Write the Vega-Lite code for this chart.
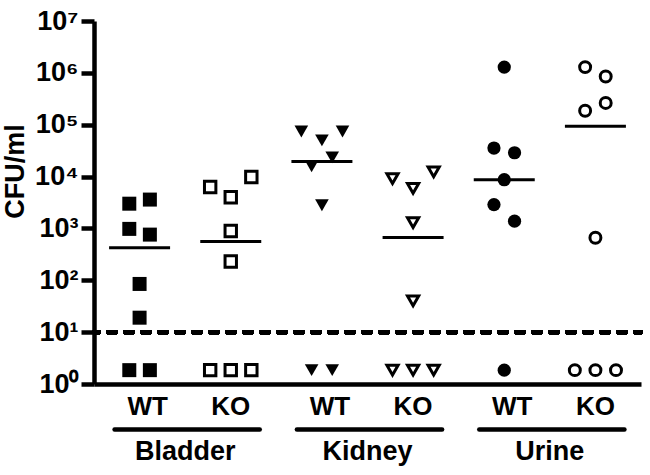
{
  "$schema": "https://vega.github.io/schema/vega-lite/v6.json",
  "background": "white",
  "padding": {"left": 1, "top": 7, "right": 5, "bottom": 5},
  "config": {"view": {"stroke": null}, "font": "Liberation Sans"},
  "datasets": {
    "pts": [
      {"tissue": "Bladder", "genotype": "WT", "group": "Bladder WT", "slot": -1, "cfu": 3000},
      {"tissue": "Bladder", "genotype": "WT", "group": "Bladder WT", "slot": 1, "cfu": 3600},
      {"tissue": "Bladder", "genotype": "WT", "group": "Bladder WT", "slot": -1, "cfu": 980},
      {"tissue": "Bladder", "genotype": "WT", "group": "Bladder WT", "slot": 1, "cfu": 760},
      {"tissue": "Bladder", "genotype": "WT", "group": "Bladder WT", "slot": 0, "cfu": 85},
      {"tissue": "Bladder", "genotype": "WT", "group": "Bladder WT", "slot": 0, "cfu": 19},
      {"tissue": "Bladder", "genotype": "WT", "group": "Bladder WT", "slot": -1, "cfu": 1.85},
      {"tissue": "Bladder", "genotype": "WT", "group": "Bladder WT", "slot": 1, "cfu": 1.85},
      {"tissue": "Bladder", "genotype": "KO", "group": "Bladder KO", "slot": -2, "cfu": 6300},
      {"tissue": "Bladder", "genotype": "KO", "group": "Bladder KO", "slot": 0, "cfu": 4000},
      {"tissue": "Bladder", "genotype": "KO", "group": "Bladder KO", "slot": 2, "cfu": 9800},
      {"tissue": "Bladder", "genotype": "KO", "group": "Bladder KO", "slot": 0, "cfu": 890},
      {"tissue": "Bladder", "genotype": "KO", "group": "Bladder KO", "slot": 0, "cfu": 230},
      {"tissue": "Bladder", "genotype": "KO", "group": "Bladder KO", "slot": -2, "cfu": 1.85},
      {"tissue": "Bladder", "genotype": "KO", "group": "Bladder KO", "slot": 0, "cfu": 1.85},
      {"tissue": "Bladder", "genotype": "KO", "group": "Bladder KO", "slot": 2, "cfu": 1.85},
      {"tissue": "Kidney", "genotype": "WT", "group": "Kidney WT", "slot": -2, "cfu": 74000},
      {"tissue": "Kidney", "genotype": "WT", "group": "Kidney WT", "slot": 0, "cfu": 50000},
      {"tissue": "Kidney", "genotype": "WT", "group": "Kidney WT", "slot": 2, "cfu": 74000},
      {"tissue": "Kidney", "genotype": "WT", "group": "Kidney WT", "slot": 1, "cfu": 23400},
      {"tissue": "Kidney", "genotype": "WT", "group": "Kidney WT", "slot": -1, "cfu": 15800},
      {"tissue": "Kidney", "genotype": "WT", "group": "Kidney WT", "slot": 0, "cfu": 2800},
      {"tissue": "Kidney", "genotype": "WT", "group": "Kidney WT", "slot": -1, "cfu": 1.85},
      {"tissue": "Kidney", "genotype": "WT", "group": "Kidney WT", "slot": 1, "cfu": 1.85},
      {"tissue": "Kidney", "genotype": "KO", "group": "Kidney KO", "slot": -2, "cfu": 9100},
      {"tissue": "Kidney", "genotype": "KO", "group": "Kidney KO", "slot": 0, "cfu": 5900},
      {"tissue": "Kidney", "genotype": "KO", "group": "Kidney KO", "slot": 2, "cfu": 12300},
      {"tissue": "Kidney", "genotype": "KO", "group": "Kidney KO", "slot": 0, "cfu": 1290},
      {"tissue": "Kidney", "genotype": "KO", "group": "Kidney KO", "slot": 0, "cfu": 40},
      {"tissue": "Kidney", "genotype": "KO", "group": "Kidney KO", "slot": -2, "cfu": 1.85},
      {"tissue": "Kidney", "genotype": "KO", "group": "Kidney KO", "slot": 0, "cfu": 1.85},
      {"tissue": "Kidney", "genotype": "KO", "group": "Kidney KO", "slot": 2, "cfu": 1.85},
      {"tissue": "Urine", "genotype": "WT", "group": "Urine WT", "slot": 0, "cfu": 1290000},
      {"tissue": "Urine", "genotype": "WT", "group": "Urine WT", "slot": -1, "cfu": 35500},
      {"tissue": "Urine", "genotype": "WT", "group": "Urine WT", "slot": 1, "cfu": 28800},
      {"tissue": "Urine", "genotype": "WT", "group": "Urine WT", "slot": 0, "cfu": 8700},
      {"tissue": "Urine", "genotype": "WT", "group": "Urine WT", "slot": -1, "cfu": 2880},
      {"tissue": "Urine", "genotype": "WT", "group": "Urine WT", "slot": 1, "cfu": 1380},
      {"tissue": "Urine", "genotype": "WT", "group": "Urine WT", "slot": 0, "cfu": 1.85},
      {"tissue": "Urine", "genotype": "KO", "group": "Urine KO", "slot": -1, "cfu": 1290000},
      {"tissue": "Urine", "genotype": "KO", "group": "Urine KO", "slot": 1, "cfu": 850000},
      {"tissue": "Urine", "genotype": "KO", "group": "Urine KO", "slot": -1, "cfu": 186000},
      {"tissue": "Urine", "genotype": "KO", "group": "Urine KO", "slot": 1, "cfu": 263000},
      {"tissue": "Urine", "genotype": "KO", "group": "Urine KO", "slot": 0, "cfu": 660},
      {"tissue": "Urine", "genotype": "KO", "group": "Urine KO", "slot": -2, "cfu": 1.85},
      {"tissue": "Urine", "genotype": "KO", "group": "Urine KO", "slot": 0, "cfu": 1.85},
      {"tissue": "Urine", "genotype": "KO", "group": "Urine KO", "slot": 2, "cfu": 1.85}
    ],
    "groups": [
      {"group": "Bladder WT", "tissue": "Bladder", "idx": 1},
      {"group": "Bladder KO", "tissue": "Bladder", "idx": 2},
      {"group": "Kidney WT", "tissue": "Kidney", "idx": 3},
      {"group": "Kidney KO", "tissue": "Kidney", "idx": 4},
      {"group": "Urine WT", "tissue": "Urine", "idx": 5},
      {"group": "Urine KO", "tissue": "Urine", "idx": 6}
    ]
  },
  "spacing": 45.5,
  "bounds": "flush",
  "resolve": {"scale": {"x": "independent", "y": "independent"}},
  "vconcat": [
    {
      "width": 547,
      "height": 363,
      "data": {"name": "pts"},
      "resolve": {"scale": {"size": "independent"}},
      "layer": [
        {
          "transform": [{"filter": "datum.genotype === 'WT'"}],
          "mark": {"type": "point", "filled": true, "color": "black", "opacity": 1},
          "encoding": {
            "x": {
              "field": "group", "type": "nominal",
              "scale": {"domain": ["Bladder WT", "Bladder KO", "Kidney WT", "Kidney KO", "Urine WT", "Urine KO"], "paddingInner": 0, "paddingOuter": 0},
              "axis": {
                "title": null,
                "labelExpr": "split(datum.label, ' ')[1]",
                "labelAngle": 0,
                "ticks": false,
                "domainColor": "black",
                "domainWidth": 4.5,
                "labelFontSize": 26,
                "labelFontWeight": "bold",
                "labelColor": "black",
                "labelPadding": 9,
                "labelOffset": {"condition": {"test": "indexof(datum.value, 'WT') >= 0", "value": 8}, "value": 0}
              }
            },
            "xOffset": {"field": "slot", "type": "quantitative", "scale": {"domain": [-4.43, 4.43], "nice": false, "zero": false}},
            "y": {
              "field": "cfu", "type": "quantitative",
              "scale": {"type": "log", "domain": [1, 10000000], "nice": false},
              "axis": {
                "title": "CFU/ml",
                "titleY": 150,
                "values": [1, 10, 100, 1000, 10000, 100000, 1000000, 10000000],
                "labelExpr": "'10' + ['⁰','¹','²','³','⁴','⁵','⁶','⁷'][round(log(datum.value) / LN10)]",
                "grid": false,
                "domainColor": "black",
                "domainWidth": 4.5,
                "tickColor": "black",
                "tickWidth": 4.5,
                "tickSize": 13,
                "labelFontSize": 27,
                "labelFontWeight": "bold",
                "labelColor": "black",
                "labelPadding": 3,
                "labelFlush": false,
                "labelOverlap": false,
                "labelBound": false,
                "titleFontSize": 27,
                "titleFontWeight": "bold",
                "titleColor": "black",
                "titlePadding": 5
              }
            },
            "shape": {"field": "tissue", "type": "nominal", "scale": {"domain": ["Bladder", "Kidney", "Urine"], "range": ["square", "triangle-down", "circle"]}, "legend": null},
            "size": {"field": "tissue", "type": "ordinal", "scale": {"domain": ["Bladder", "Kidney", "Urine"], "range": [196, 175, 165]}, "legend": null}
          }
        },
        {
          "transform": [{"filter": "datum.genotype === 'KO'"}],
          "mark": {"type": "point", "filled": false, "stroke": "black", "strokeWidth": 3, "opacity": 1},
          "encoding": {
            "x": {"field": "group", "type": "nominal"},
            "xOffset": {"field": "slot", "type": "quantitative"},
            "y": {"field": "cfu", "type": "quantitative"},
            "shape": {"field": "tissue", "type": "nominal", "legend": null},
            "size": {"field": "tissue", "type": "ordinal", "scale": {"domain": ["Bladder", "Kidney", "Urine"], "range": [130, 120, 120]}, "legend": null}
          }
        },
        {
          "mark": {"type": "tick", "color": "black", "thickness": 3, "opacity": 1},
          "encoding": {
            "x": {"field": "group", "type": "nominal"},
            "y": {"aggregate": "median", "field": "cfu", "type": "quantitative"},
            "size": {"value": 61}
          }
        },
        {
          "mark": {"type": "rule", "color": "black", "strokeWidth": 4, "strokeCap": "round", "strokeDash": [8, 9], "strokeDashOffset": 2},
          "encoding": {"y": {"datum": 10}}
        }
      ]
    },
    {
      "width": 547,
      "height": 30.5,
      "data": {"name": "groups"},
      "layer": [
        {
          "mark": {"type": "rule", "color": "black", "strokeWidth": 4.5, "strokeCap": "round", "xOffset": -25, "x2Offset": 29},
          "encoding": {
            "x": {"aggregate": "min", "field": "idx", "type": "quantitative", "scale": {"domain": [0.5, 6.5], "nice": false, "zero": false}, "axis": null},
            "x2": {"aggregate": "max", "field": "idx"},
            "y": {"datum": "line", "type": "nominal", "scale": {"type": "point", "domain": ["line", "name"], "padding": 0}, "axis": null},
            "detail": {"field": "tissue", "type": "nominal"}
          }
        },
        {
          "mark": {"type": "text", "color": "black", "fontSize": 27, "fontWeight": "bold", "baseline": "alphabetic", "align": "center"},
          "encoding": {
            "x": {"aggregate": "mean", "field": "idx", "type": "quantitative"},
            "y": {"datum": "name", "type": "nominal"},
            "text": {"field": "tissue", "type": "nominal"}
          }
        }
      ]
    }
  ]
}
